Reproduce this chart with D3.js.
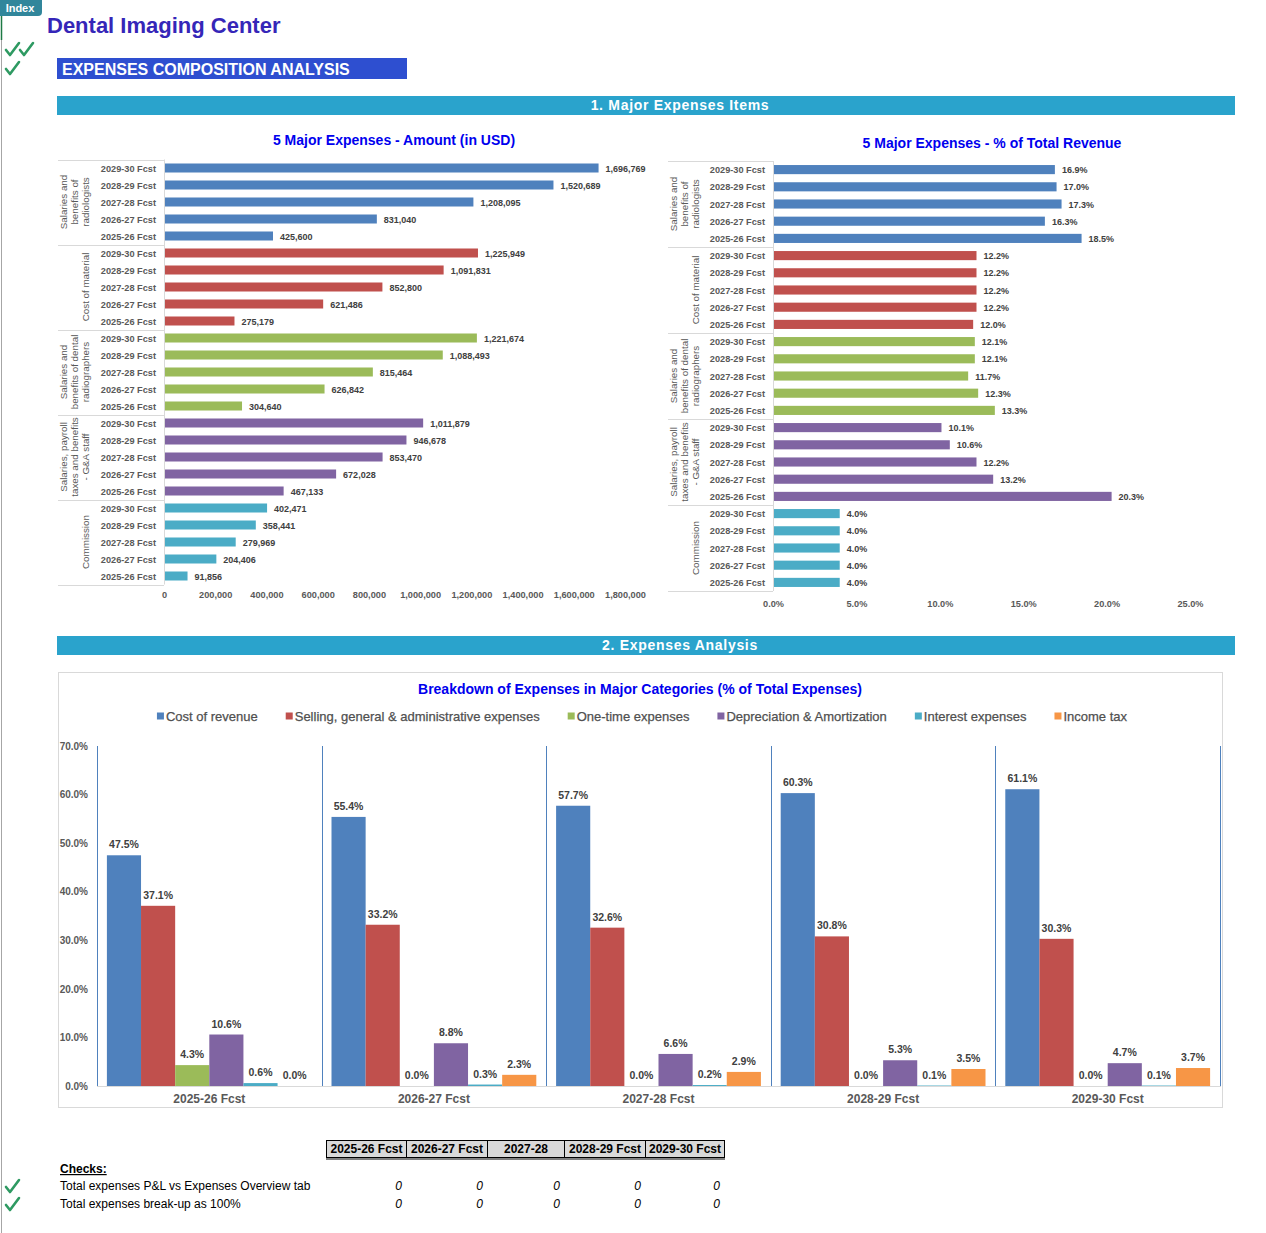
<!DOCTYPE html>
<html>
<head>
<meta charset="utf-8">
<script src="https://cdn.jsdelivr.net/npm/d3@7"></script>
<style>
  body { margin: 0; background: #fff; }
  svg { display: block; font-family: "Liberation Sans", Arial, sans-serif; }
</style>
</head>
<body>
<svg width="1266" height="1233"></svg>
<script>
// ---- data ----
var years = ["2025-26 Fcst", "2026-27 Fcst", "2027-28 Fcst", "2028-29 Fcst", "2029-30 Fcst"]
var tableYears = ["2025-26 Fcst", "2026-27 Fcst", "2027-28", "2028-29 Fcst", "2029-30 Fcst"]

var itemLabels = [
  ["Salaries and", "benefits of", "radiologists"],
  ["Cost of material"],
  ["Salaries and", "benefits of dental", "radiographers"],
  ["Salaries, payroll", "taxes and benefits", "- G&A staff"],
  ["Commission"]
]

// amounts in USD, 2025-26 .. 2029-30
var amtRadiologists = [425600, 831040, 1208095, 1520689, 1696769]
var amtMaterial = [275179, 621486, 852800, 1091831, 1225949]
var amtRadiographers = [304640, 626842, 815464, 1088493, 1221674]
var amtGAStaff = [467133, 672028, 853470, 946678, 1011879]
var amtCommission = [91856, 204406, 279969, 358441, 402471]

// % of total revenue, 2025-26 .. 2029-30
var pctRadiologists = [18.5, 16.3, 17.3, 17.0, 16.9]
var pctMaterial = [12.0, 12.2, 12.2, 12.2, 12.2]
var pctRadiographers = [13.3, 12.3, 11.7, 12.1, 12.1]
var pctGAStaff = [20.3, 13.2, 12.2, 10.6, 10.1]
var pctCommission = [4.0, 4.0, 4.0, 4.0, 4.0]

// breakdown of expenses (% of total expenses)
var seriesNames = ["Cost of revenue", "Selling, general & administrative expenses", "One-time expenses",
  "Depreciation & Amortization", "Interest expenses", "Income tax"]
var costOfRevenue = [47.5, 55.4, 57.7, 60.3, 61.1]
var sgaExpenses = [37.1, 33.2, 32.6, 30.8, 30.3]
var oneTime = [4.3, 0.0, 0.0, 0.0, 0.0]
var depreciation = [10.6, 8.8, 6.6, 5.3, 4.7]
var interest = [0.6, 0.3, 0.2, 0.1, 0.1]
var incomeTax = [0.0, 2.3, 2.9, 3.5, 3.7]

var checkLabels = ["Total expenses P&L vs Expenses Overview tab", "Total expenses break-up as 100%"]
var checkP_L = [0, 0, 0, 0, 0]
var checkBreakup = [0, 0, 0, 0, 0]

var palette = ["#4f81bd", "#c0504d", "#9bbb59", "#8064a2", "#4bacc6", "#f79646"]

var svg = d3.select("svg")

// ---- page furniture ----
svg.append("line").attr("x1", 1.5).attr("x2", 1.5).attr("y1", 16).attr("y2", 1233)
  .attr("stroke", "#a6a6a6").attr("stroke-width", 1)
svg.append("line").attr("x1", 1.5).attr("x2", 1.5).attr("y1", 16).attr("y2", 40)
  .attr("stroke", "#1e7a45").attr("stroke-width", 1.5)
svg.append("path").attr("d", "M0,0H42V12Q42,16 38,16H0Z").attr("fill", "#31869b")
svg.append("text").attr("x", 20).attr("y", 12).attr("text-anchor", "middle")
  .attr("fill", "#fff").attr("font-weight", "bold").attr("font-size", 11).text("Index")

svg.append("text").attr("x", 47).attr("y", 33).attr("fill", "#3526b8")
  .attr("font-weight", "bold").attr("font-size", 22).text("Dental Imaging Center")

// green tick marks, drawn as a path so they stay crisp and compact
function check(x, y) {
  svg.append("path")
    .attr("d", "M" + x + "," + (y - 5) + " L" + (x + 4) + "," + (y) + " L" + (x + 13) + "," + (y - 12))
    .attr("fill", "none").attr("stroke", "#2e9a62").attr("stroke-width", 2.6)
    .attr("stroke-linecap", "round").attr("stroke-linejoin", "round")
}
check(6, 55)
check(20, 55)
check(6, 74)

svg.append("rect").attr("x", 57).attr("y", 58).attr("width", 350).attr("height", 21).attr("fill", "#2e4fd0")
svg.append("text").attr("x", 62).attr("y", 74.5).attr("fill", "#fff").attr("font-weight", "bold")
  .attr("font-size", 16).text("EXPENSES COMPOSITION ANALYSIS")

function band(y, txt) {
  svg.append("rect").attr("x", 57).attr("y", y).attr("width", 1178).attr("height", 19).attr("fill", "#2aa3cc")
  svg.append("text").attr("x", 680).attr("y", y + 13.5).attr("text-anchor", "middle").attr("fill", "#fff")
    .attr("font-weight", "bold").attr("font-size", 14).attr("letter-spacing", 0.7).text(txt)
}
band(96, "1. Major Expenses Items")
band(636, "2. Expenses Analysis")

// ---- horizontal grouped bar charts ----
function hbar(cfg) {
  var rows = []
  cfg.values.forEach(function (vals, gi) {
    for (var yi = years.length - 1; yi >= 0; yi--) {
      rows.push({ key: gi + "|" + yi, group: gi, year: years[yi], value: vals[yi] })
    }
  })
  var y = d3.scaleBand().domain(rows.map(function (d) { return d.key })).range([cfg.top, cfg.bottom])
    .paddingInner(0.47).paddingOuter(0.235)
  var x = d3.scaleLinear().domain([0, cfg.max]).range([cfg.left, cfg.right])
  var g = svg.append("g")

  svg.append("text").attr("x", cfg.titleX).attr("y", cfg.titleY).attr("text-anchor", "middle")
    .attr("fill", "#0000ee").attr("font-weight", "bold").attr("font-size", 14).text(cfg.title)

  g.selectAll(".bar").data(rows).enter().append("rect")
    .attr("x", x(0)).attr("y", function (d) { return y(d.key) })
    .attr("width", function (d) { return x(d.value) - x(0) }).attr("height", y.bandwidth())
    .attr("fill", function (d) { return palette[d.group] })

  g.selectAll(".val").data(rows).enter().append("text")
    .attr("x", function (d) { return x(d.value) + 7 })
    .attr("y", function (d) { return y(d.key) + y.bandwidth() / 2 + 3.5 })
    .attr("font-size", 9).attr("font-weight", "bold").attr("fill", "#404040")
    .text(function (d) { return cfg.fmt(d.value) })

  g.selectAll(".cat").data(rows).enter().append("text")
    .attr("x", cfg.left - 8).attr("y", function (d) { return y(d.key) + y.bandwidth() / 2 + 3.5 })
    .attr("text-anchor", "end").attr("font-size", 9.2).attr("font-weight", "bold").attr("fill", "#595959")
    .text(function (d) { return d.year })

  // group separators and labels
  var step = y.step(), n = years.length
  for (var gi = 0; gi <= cfg.values.length; gi++) {
    var yy = Math.round(cfg.top + gi * n * step) + 0.5
    g.append("line").attr("x1", cfg.groupX0).attr("x2", cfg.left).attr("y1", yy).attr("y2", yy)
      .attr("stroke", "#d9d9d9")
  }
  itemLabels.forEach(function (lines, gi) {
    var cy = cfg.top + (gi + 0.5) * n * step
    lines.forEach(function (ln, li) {
      var lx = cfg.groupLabelX - (lines.length - 1 - li) * 11
      g.append("text").attr("transform", "translate(" + lx + "," + cy + ") rotate(-90)")
        .attr("text-anchor", "middle").attr("font-size", 9.8).attr("fill", "#595959").text(ln)
    })
  })
  g.append("line").attr("x1", cfg.left + 0.5).attr("x2", cfg.left + 0.5).attr("y1", cfg.top).attr("y2", cfg.bottom)
    .attr("stroke", "#d9d9d9")

  var axis = d3.axisBottom(x).tickValues(cfg.ticks).tickSize(0).tickFormat(cfg.tickFmt)
  var ag = svg.append("g").attr("transform", "translate(0," + cfg.axisY + ")").call(axis)
  ag.select(".domain").remove()
  ag.selectAll("text").attr("font-size", 9.2).attr("font-weight", "bold").attr("fill", "#595959")
    .attr("font-family", "Liberation Sans, Arial, sans-serif")
}

hbar({
  title: "5 Major Expenses - Amount (in USD)", titleX: 394, titleY: 145,
  values: [amtRadiologists, amtMaterial, amtRadiographers, amtGAStaff, amtCommission],
  top: 159.5, bottom: 584.5, left: 164, right: 625, max: 1800000,
  ticks: d3.range(0, 1800001, 200000), tickFmt: function (d) { return d === 0 ? "0" : d3.format(",")(d) },
  fmt: d3.format(","), axisY: 588, groupX0: 58, groupLabelX: 89
})

hbar({
  title: "5 Major Expenses - % of Total Revenue", titleX: 992, titleY: 148,
  values: [pctRadiologists, pctMaterial, pctRadiographers, pctGAStaff, pctCommission],
  top: 161, bottom: 591, left: 773, right: 1190, max: 25,
  ticks: d3.range(0, 26, 5), tickFmt: function (d) { return d3.format(".1f")(d) + "%" },
  fmt: function (d) { return d3.format(".1f")(d) + "%" }, axisY: 597, groupX0: 668, groupLabelX: 699
})

// ---- breakdown column chart ----
svg.append("rect").attr("x", 58.5).attr("y", 672.5).attr("width", 1164).attr("height", 435)
  .attr("fill", "none").attr("stroke", "#d9d9d9")
svg.append("text").attr("x", 640).attr("y", 694).attr("text-anchor", "middle").attr("fill", "#0000ee")
  .attr("font-weight", "bold").attr("font-size", 14).text("Breakdown of Expenses in Major Categories (% of Total Expenses)")

// legend, laid out from the measured text widths
var leg = svg.append("g")
var lx = 0
seriesNames.forEach(function (s, i) {
  var it = leg.append("g").attr("transform", "translate(" + lx + ",0)")
  it.append("rect").attr("x", 0).attr("y", -3.5).attr("width", 7).attr("height", 7).attr("fill", palette[i])
  var t = it.append("text").attr("x", 9).attr("y", 4.5).attr("font-size", 13).attr("fill", "#505050")
    .attr("stroke", "#505050").attr("stroke-width", 0.25).text(s)
  lx += 9 + t.node().getComputedTextLength() + 28
})
lx -= 28
leg.attr("transform", "translate(" + (642 - lx / 2) + ",716)")

var seriesVals = [costOfRevenue, sgaExpenses, oneTime, depreciation, interest, incomeTax]
var cols = []
years.forEach(function (yr, yi) {
  seriesVals.forEach(function (vals, si) { cols.push({ year: yr, s: si, value: vals[yi] }) })
})

var x0 = d3.scaleBand().domain(years).range([97, 1220]).padding(0)
var x1 = d3.scaleBand().domain(d3.range(seriesNames.length)).range([0, x0.bandwidth()])
  .paddingInner(0).paddingOuter(0.29)
var yb = d3.scaleLinear().domain([0, 70]).range([1086, 746])

var yAxis = d3.axisLeft(yb).tickValues(d3.range(0, 71, 10)).tickSize(0)
  .tickFormat(function (d) { return d3.format(".1f")(d) + "%" })
var yg = svg.append("g").attr("transform", "translate(96,0)").call(yAxis)
yg.select(".domain").remove()
yg.selectAll("text").attr("font-size", 10).attr("font-weight", "bold").attr("fill", "#595959")
  .attr("x", -8).attr("font-family", "Liberation Sans, Arial, sans-serif")

svg.selectAll(".col").data(cols).enter().append("rect")
  .attr("x", function (d) { return x0(d.year) + x1(d.s) })
  .attr("y", function (d) { return yb(d.value) })
  .attr("width", x1.bandwidth()).attr("height", function (d) { return yb(0) - yb(d.value) })
  .attr("fill", function (d) { return palette[d.s] })

svg.selectAll(".colv").data(cols).enter().append("text")
  .attr("x", function (d) { return x0(d.year) + x1(d.s) + x1.bandwidth() / 2 })
  .attr("y", function (d) { return yb(d.value) - 7 })
  .attr("text-anchor", "middle").attr("font-size", 10.5).attr("font-weight", "bold").attr("fill", "#404040")
  .text(function (d) { return d3.format(".1f")(d.value) + "%" })

// group divider lines and baseline
svg.selectAll(".div").data(d3.range(years.length + 1)).enter().append("line")
  .attr("x1", function (i) { return Math.round(97 + i * x0.step()) + 0.5 })
  .attr("x2", function (i) { return Math.round(97 + i * x0.step()) + 0.5 })
  .attr("y1", yb(70)).attr("y2", yb(0)).attr("stroke", "#4f81bd")
svg.append("line").attr("x1", 97).attr("x2", 1221).attr("y1", yb(0) + 0.5).attr("y2", yb(0) + 0.5)
  .attr("stroke", "#d9d9d9")

var xAxis = d3.axisBottom(x0).tickSize(0)
var xg = svg.append("g").attr("transform", "translate(0," + (yb(0) + 5) + ")").call(xAxis)
xg.select(".domain").remove()
xg.selectAll("text").attr("font-size", 12).attr("font-weight", "bold").attr("fill", "#595959")
  .attr("font-family", "Liberation Sans, Arial, sans-serif")

// ---- checks table ----
var colEdges = [326, 406, 487, 564, 645, 724]
tableYears.forEach(function (t, i) {
  svg.append("rect").attr("x", colEdges[i] + 0.5).attr("y", 1140.5)
    .attr("width", colEdges[i + 1] - colEdges[i]).attr("height", 17)
    .attr("fill", "#d9d9d9").attr("stroke", "#000")
  svg.append("text").attr("x", (colEdges[i] + colEdges[i + 1]) / 2 + 0.5).attr("y", 1153)
    .attr("text-anchor", "middle").attr("font-size", 12).attr("font-weight", "bold").attr("fill", "#000").text(t)
})
svg.append("line").attr("x1", 326).attr("x2", 725).attr("y1", 1159).attr("y2", 1159).attr("stroke", "#000")

svg.append("text").attr("x", 60).attr("y", 1173).attr("font-size", 12).attr("font-weight", "bold")
  .attr("text-decoration", "underline").text("Checks:")

var checkRows = [checkP_L, checkBreakup]
checkRows.forEach(function (vals, r) {
  var by = 1190 + r * 18
  check(6, by + 2)
  svg.append("text").attr("x", 60).attr("y", by).attr("font-size", 12).text(checkLabels[r])
  vals.forEach(function (v, i) {
    svg.append("text").attr("x", colEdges[i + 1] - 4).attr("y", by).attr("text-anchor", "end")
      .attr("font-size", 12).attr("font-style", "italic").text(v)
  })
})
</script>
</body>
</html>
